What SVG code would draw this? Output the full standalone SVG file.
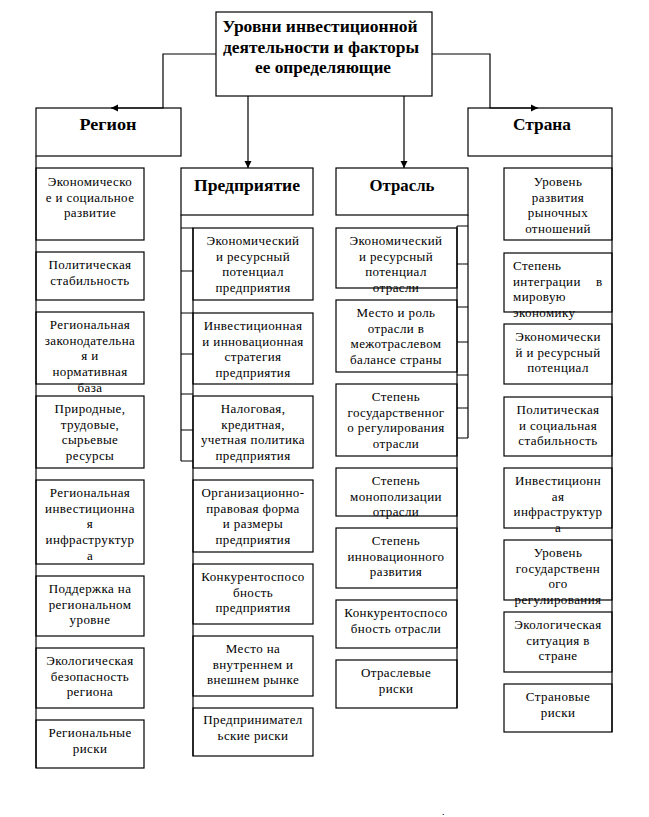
<svg xmlns="http://www.w3.org/2000/svg" width="649" height="817" viewBox="0 0 649 817">
<style>
  .box { fill: #fff; stroke: #000; stroke-width: 1.2; }
  .ln { fill: none; stroke: #000; stroke-width: 1.2; }
  .t { font-family: "Liberation Serif", "DejaVu Serif", serif; font-size: 13px; letter-spacing: 0.4px; fill: #000; text-anchor: middle; }
  .tl { font-family: "Liberation Serif", "DejaVu Serif", serif; font-size: 13px; letter-spacing: 0.4px; fill: #000; }
  .h { font-family: "Liberation Serif", "DejaVu Serif", serif; font-size: 17px; font-weight: bold; fill: #000; text-anchor: middle; }
  .ti { font-family: "Liberation Serif", "DejaVu Serif", serif; font-size: 16px; font-weight: bold; fill: #000; text-anchor: middle; }
</style>
<defs>
  <marker id="arr" markerWidth="8" markerHeight="8" refX="7" refY="4" orient="auto" markerUnits="userSpaceOnUse">
    <path d="M0,0.5 L7,4 L0,7.5 Z" fill="#000"/>
  </marker>
</defs>
<rect width="649" height="817" fill="#fff"/>

<g id="title">
  <rect class="box" x="216" y="12" width="216" height="84"/>
  <text class="ti" x="320" y="32" textLength="195" lengthAdjust="spacingAndGlyphs">Уровни инвестиционной</text>
  <text class="ti" x="321" y="53" textLength="196" lengthAdjust="spacingAndGlyphs">деятельности и факторы</text>
  <text class="ti" x="323" y="73" textLength="136" lengthAdjust="spacingAndGlyphs">ее определяющие</text>
</g>

<g id="region">
  <rect class="box" x="36" y="108" width="145" height="48"/>
  <text class="h" x="108" y="130" textLength="57" lengthAdjust="spacingAndGlyphs">Регион</text>
</g>
<g id="country">
  <rect class="box" x="468" y="108" width="144" height="48"/>
  <text class="h" x="542" y="130" textLength="58" lengthAdjust="spacingAndGlyphs">Страна</text>
</g>
<g id="enterprise">
  <rect class="box" x="181" y="168" width="132" height="47"/>
  <text class="h" x="247" y="191" textLength="106" lengthAdjust="spacingAndGlyphs">Предприятие</text>
</g>
<g id="industry">
  <rect class="box" x="336" y="168" width="132" height="47"/>
  <text class="h" x="402" y="191" textLength="65" lengthAdjust="spacingAndGlyphs">Отрасль</text>
</g>

<!-- Region factors -->
<g id="r1"><rect class="box" x="36" y="168" width="108" height="72"/>
  <text class="t" x="90" y="186"><tspan x="90">Экономическо</tspan><tspan x="90" dy="15.7">е и социальное</tspan><tspan x="90" dy="15.7">развитие</tspan></text></g>
<g id="r2"><rect class="box" x="36" y="252" width="108" height="48"/>
  <text class="t" x="90" y="269"><tspan x="90">Политическая</tspan><tspan x="90" dy="15.7">стабильность</tspan></text></g>
<g id="r3"><rect class="box" x="36" y="312" width="108" height="72"/>
  <text class="t" x="90" y="329"><tspan x="90">Региональная</tspan><tspan x="90" dy="15.7">законодательна</tspan><tspan x="90" dy="15.7">я и</tspan><tspan x="90" dy="15.7">нормативная</tspan><tspan x="90" dy="15.7">база</tspan></text></g>
<g id="r4"><rect class="box" x="36" y="396" width="108" height="72"/>
  <text class="t" x="90" y="413"><tspan x="90">Природные,</tspan><tspan x="90" dy="15.7">трудовые,</tspan><tspan x="90" dy="15.7">сырьевые</tspan><tspan x="90" dy="15.7">ресурсы</tspan></text></g>
<g id="r5"><rect class="box" x="36" y="480" width="108" height="84"/>
  <text class="t" x="90" y="497"><tspan x="90">Региональная</tspan><tspan x="90" dy="15.7">инвестиционна</tspan><tspan x="90" dy="15.7">я</tspan><tspan x="90" dy="15.7">инфраструктур</tspan><tspan x="90" dy="15.7">а</tspan></text></g>
<g id="r6"><rect class="box" x="36" y="576" width="108" height="60"/>
  <text class="t" x="90" y="593"><tspan x="90">Поддержка на</tspan><tspan x="90" dy="15.7">региональном</tspan><tspan x="90" dy="15.7">уровне</tspan></text></g>
<g id="r7"><rect class="box" x="36" y="648" width="108" height="60"/>
  <text class="t" x="90" y="665"><tspan x="90">Экологическая</tspan><tspan x="90" dy="15.7">безопасность</tspan><tspan x="90" dy="15.7">региона</tspan></text></g>
<g id="r8"><rect class="box" x="36" y="720" width="108" height="48"/>
  <text class="t" x="90" y="737"><tspan x="90">Региональные</tspan><tspan x="90" dy="15.7">риски</tspan></text></g>

<!-- Enterprise factors -->
<g id="p1"><rect class="box" x="193" y="228" width="120" height="72"/>
  <text class="t" x="253" y="245"><tspan x="253">Экономический</tspan><tspan x="253" dy="15.7">и ресурсный</tspan><tspan x="253" dy="15.7">потенциал</tspan><tspan x="253" dy="15.7">предприятия</tspan></text></g>
<g id="p2"><rect class="box" x="193" y="313" width="120" height="71"/>
  <text class="t" x="253" y="330"><tspan x="253">Инвестиционная</tspan><tspan x="253" dy="15.7">и инновационная</tspan><tspan x="253" dy="15.7">стратегия</tspan><tspan x="253" dy="15.7">предприятия</tspan></text></g>
<g id="p3"><rect class="box" x="193" y="396" width="120" height="72"/>
  <text class="t" x="253" y="413"><tspan x="253">Налоговая,</tspan><tspan x="253" dy="15.7">кредитная,</tspan><tspan x="253" dy="15.7">учетная политика</tspan><tspan x="253" dy="15.7">предприятия</tspan></text></g>
<g id="p4"><rect class="box" x="193" y="480" width="120" height="72"/>
  <text class="t" x="253" y="497"><tspan x="253">Организационно-</tspan><tspan x="253" dy="15.7">правовая форма</tspan><tspan x="253" dy="15.7">и размеры</tspan><tspan x="253" dy="15.7">предприятия</tspan></text></g>
<g id="p5"><rect class="box" x="193" y="564" width="120" height="60"/>
  <text class="t" x="253" y="581"><tspan x="253">Конкурентоспосо</tspan><tspan x="253" dy="15.7">бность</tspan><tspan x="253" dy="15.7">предприятия</tspan></text></g>
<g id="p6"><rect class="box" x="193" y="636" width="120" height="60"/>
  <text class="t" x="253" y="653"><tspan x="253">Место на</tspan><tspan x="253" dy="15.7">внутреннем и</tspan><tspan x="253" dy="15.7">внешнем рынке</tspan></text></g>
<g id="p7"><rect class="box" x="193" y="708" width="120" height="48"/>
  <text class="t" x="253" y="724"><tspan x="253">Предпринимател</tspan><tspan x="253" dy="15.7">ьские риски</tspan></text></g>

<!-- Industry factors -->
<g id="o1"><rect class="box" x="336" y="228" width="121" height="60"/>
  <text class="t" x="396" y="245"><tspan x="396">Экономический</tspan><tspan x="396" dy="15.7">и ресурсный</tspan><tspan x="396" dy="15.7">потенциал</tspan><tspan x="396" dy="15.7">отрасли</tspan></text></g>
<g id="o2"><rect class="box" x="336" y="300" width="121" height="72"/>
  <text class="t" x="396" y="317"><tspan x="396">Место и роль</tspan><tspan x="396" dy="15.7">отрасли в</tspan><tspan x="396" dy="15.7">межотраслевом</tspan><tspan x="396" dy="15.7">балансе страны</tspan></text></g>
<g id="o3"><rect class="box" x="336" y="384" width="121" height="72"/>
  <text class="t" x="396" y="401"><tspan x="396">Степень</tspan><tspan x="396" dy="15.7">государственног</tspan><tspan x="396" dy="15.7">о регулирования</tspan><tspan x="396" dy="15.7">отрасли</tspan></text></g>
<g id="o4"><rect class="box" x="336" y="468" width="121" height="48"/>
  <text class="t" x="396" y="485"><tspan x="396">Степень</tspan><tspan x="396" dy="15.7">монополизации</tspan><tspan x="396" dy="15.7">отрасли</tspan></text></g>
<g id="o5"><rect class="box" x="336" y="528" width="121" height="60"/>
  <text class="t" x="396" y="545"><tspan x="396">Степень</tspan><tspan x="396" dy="15.7">инновационного</tspan><tspan x="396" dy="15.7">развития</tspan></text></g>
<g id="o6"><rect class="box" x="336" y="600" width="121" height="48"/>
  <text class="t" x="396" y="617"><tspan x="396">Конкурентоспосо</tspan><tspan x="396" dy="15.7">бность отрасли</tspan></text></g>
<g id="o7"><rect class="box" x="336" y="660" width="121" height="48"/>
  <text class="t" x="396" y="677"><tspan x="396">Отраслевые</tspan><tspan x="396" dy="15.7">риски</tspan></text></g>

<!-- Country factors -->
<g id="s1"><rect class="box" x="504" y="168" width="108" height="72"/>
  <text class="t" x="558" y="186"><tspan x="558">Уровень</tspan><tspan x="558" dy="15.7">развития</tspan><tspan x="558" dy="15.7">рыночных</tspan><tspan x="558" dy="15.7">отношений</tspan></text></g>
<g id="s2"><rect class="box" x="504" y="253" width="108" height="59"/>
  <text class="tl" x="513" y="270"><tspan x="513">Степень</tspan><tspan x="513" dy="15.7">интеграции</tspan><tspan x="513" dy="15.7">мировую</tspan><tspan x="513" dy="15.7">экономику</tspan></text>
  <text class="tl" x="596" y="285.7">в</text></g>
<g id="s3"><rect class="box" x="504" y="324" width="108" height="60"/>
  <text class="t" x="558" y="341"><tspan x="558">Экономически</tspan><tspan x="558" dy="15.7">й и ресурсный</tspan><tspan x="558" dy="15.7">потенциал</tspan></text></g>
<g id="s4"><rect class="box" x="504" y="397" width="108" height="59"/>
  <text class="t" x="558" y="414"><tspan x="558">Политическая</tspan><tspan x="558" dy="15.7">и социальная</tspan><tspan x="558" dy="15.7">стабильность</tspan></text></g>
<g id="s5"><rect class="box" x="504" y="468" width="108" height="60"/>
  <text class="t" x="558" y="485"><tspan x="558">Инвестиционн</tspan><tspan x="558" dy="15.7">ая</tspan><tspan x="558" dy="15.7">инфраструктур</tspan><tspan x="558" dy="15.7">а</tspan></text></g>
<g id="s6"><rect class="box" x="504" y="540" width="108" height="60"/>
  <text class="t" x="558" y="557"><tspan x="558">Уровень</tspan><tspan x="558" dy="15.7">государственн</tspan><tspan x="558" dy="15.7">ого</tspan><tspan x="558" dy="15.7">регулирования</tspan></text></g>
<g id="s7"><rect class="box" x="504" y="612" width="108" height="60"/>
  <text class="t" x="558" y="629"><tspan x="558">Экологическая</tspan><tspan x="558" dy="15.7">ситуация в</tspan><tspan x="558" dy="15.7">стране</tspan></text></g>
<g id="s8"><rect class="box" x="504" y="684" width="108" height="48"/>
  <text class="t" x="558" y="701"><tspan x="558">Страновые</tspan><tspan x="558" dy="15.7">риски</tspan></text></g>

<g id="connectors">
  <path class="ln" d="M216,54 H163 V108 H111" marker-end="url(#arr)"/>
  <path class="ln" d="M432,54 H490 V108 H538" marker-end="url(#arr)"/>
  <path class="ln" d="M248,96 V168" marker-end="url(#arr)"/>
  <path class="ln" d="M404,96 V168" marker-end="url(#arr)"/>
  <path class="ln" d="M36,156 V768"/>
  <path class="ln" d="M612,156 V732"/>
  <path class="ln" d="M181,215 V461 M193,228 V756 M181,228 H193 M181,271 H193 M181,313 H193 M181,354 H193 M181,394 H193 M181,430 H193 M181,461 H193"/>
  <path class="ln" d="M468,215 V438 M457,226 V708 M457,226 H468 M457,264 H468 M457,307 H468 M457,342 H468 M457,375 H468 M457,408 H468 M457,438 H468"/>
</g>

<text class="tl" x="442" y="815" style="font-size:10px">.</text>
</svg>
